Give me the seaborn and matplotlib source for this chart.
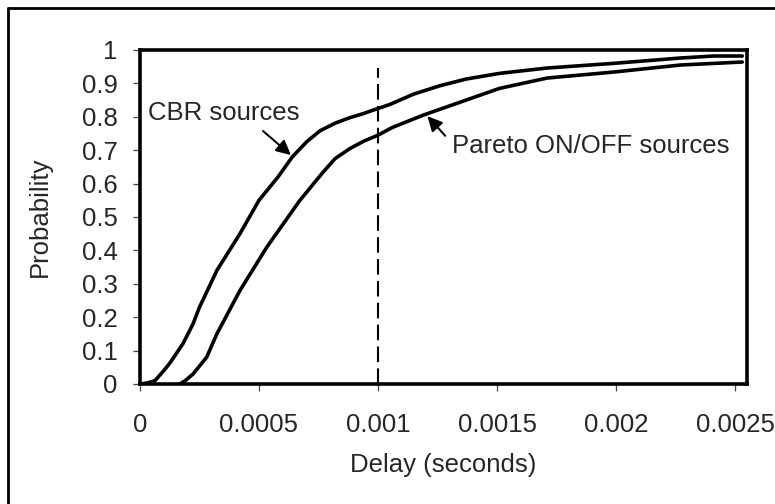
import matplotlib
matplotlib.use('Agg')
import matplotlib.pyplot as plt
import seaborn as sns
import pandas as pd
from matplotlib.lines import Line2D

# delay CDFs
cbr_delay = [0, 0.00003, 0.000063, 0.0001, 0.000126, 0.00018, 0.000223, 0.00025,
             0.00029, 0.000323, 0.00042, 0.0005, 0.00058, 0.00064, 0.0007, 0.000756,
             0.00082, 0.00088, 0.00094, 0.001, 0.00105, 0.00115, 0.00126, 0.00137,
             0.00151, 0.00171, 0.00199, 0.00227, 0.00241, 0.00253]
cbr_prob = [0, 0.003, 0.01, 0.04, 0.063, 0.12, 0.18, 0.23,
            0.29, 0.34, 0.45, 0.55, 0.62, 0.68, 0.725, 0.758,
            0.781, 0.797, 0.81, 0.825, 0.837, 0.868, 0.893, 0.913,
            0.93, 0.946, 0.96, 0.976, 0.982, 0.982]

pareto_delay = [0.000168, 0.00019, 0.000223, 0.00028, 0.000323, 0.00042, 0.000533,
                0.000672, 0.00077, 0.00082, 0.000882, 0.00094, 0.001, 0.00106,
                0.00119, 0.00133, 0.00143, 0.00151, 0.00171, 0.00199, 0.00227,
                0.00253]
pareto_prob = [0, 0.01, 0.03, 0.08, 0.15, 0.28, 0.41,
               0.55, 0.635, 0.675, 0.705, 0.727, 0.745, 0.768,
               0.805, 0.84, 0.865, 0.885, 0.916, 0.934, 0.955,
               0.964]

x_ticks = [0, 0.0005, 0.001, 0.0015, 0.002, 0.0025]
x_labels = ['0', '0.0005', '0.001', '0.0015', '0.002', '0.0025']
y_ticks = [0, 0.1, 0.2, 0.3, 0.4, 0.5, 0.6, 0.7, 0.8, 0.9, 1.0]
y_labels = ['0', '0.1', '0.2', '0.3', '0.4', '0.5', '0.6', '0.7', '0.8', '0.9', '1']

cbr_df = pd.DataFrame({'Delay': cbr_delay, 'Probability': cbr_prob})
pareto_df = pd.DataFrame({'Delay': pareto_delay, 'Probability': pareto_prob})

sns.set_style('ticks')
plt.rcParams['font.family'] = ['Liberation Sans', 'DejaVu Sans']

fig = plt.figure(figsize=(7.75, 5.04), dpi=100)
ax = fig.add_axes([0.1806, 0.2381, 0.7833, 0.6627])

sns.lineplot(data=cbr_df, x='Delay', y='Probability', ax=ax, color='black',
             linewidth=2.6, estimator=None, sort=False)
sns.lineplot(data=pareto_df, x='Delay', y='Probability', ax=ax, color='black',
             linewidth=2.6, estimator=None, sort=False)

ax.axvline(0.001, ymin=0, ymax=0.946, color='black', linewidth=1.5,
           linestyle=(0, (7.5, 3)))

ax.set_xlim(0, 0.00255)
ax.set_ylim(0, 1)
ax.set_xticks(x_ticks)
ax.set_xticklabels(x_labels)
ax.set_yticks(y_ticks)
ax.set_yticklabels(y_labels)
ax.tick_params(axis='both', labelsize=18.5, length=5, width=0.9, color='#444444')
ax.tick_params(axis='x', pad=16)
ax.tick_params(axis='y', pad=11)
for s in ax.spines.values():
    s.set_visible(True)
    s.set_linewidth(2.6)
    s.set_color('black')
ax.set_xlabel('')
ax.set_ylabel('')

# annotations
ax.text(0.0000336, 0.79, 'CBR sources', fontsize=18.5, ha='left', va='baseline')
ax.annotate('', xy=(0.000643, 0.68), xytext=(0.000508, 0.763),
            arrowprops=dict(arrowstyle='-|>', color='black', lw=1.5, mutation_scale=22))
ax.text(0.00131, 0.692, 'Pareto ON/OFF sources', fontsize=18.5, ha='left', va='baseline')
ax.annotate('', xy=(0.0012, 0.808), xytext=(0.00129, 0.737),
            arrowprops=dict(arrowstyle='-|>', color='black', lw=1.5, mutation_scale=22))

fig.text(443 / 775, 1 - 465 / 504, 'Delay (seconds)', fontsize=18.5, ha='center', va='center')
fig.text(40 / 775, 1 - 217 / 504, 'Probability', fontsize=18.5, ha='center', va='center',
         rotation=90)

# outer frame (only left and top edges fall inside the image)
fig.add_artist(Line2D([8 / 775, 8 / 775], [-0.1, 1 - 8 / 504], transform=fig.transFigure,
                      color='black', linewidth=2))
fig.add_artist(Line2D([8 / 775, 1.1], [1 - 8 / 504, 1 - 8 / 504], transform=fig.transFigure,
                      color='black', linewidth=2))

fig.savefig('out.png', dpi=100)
